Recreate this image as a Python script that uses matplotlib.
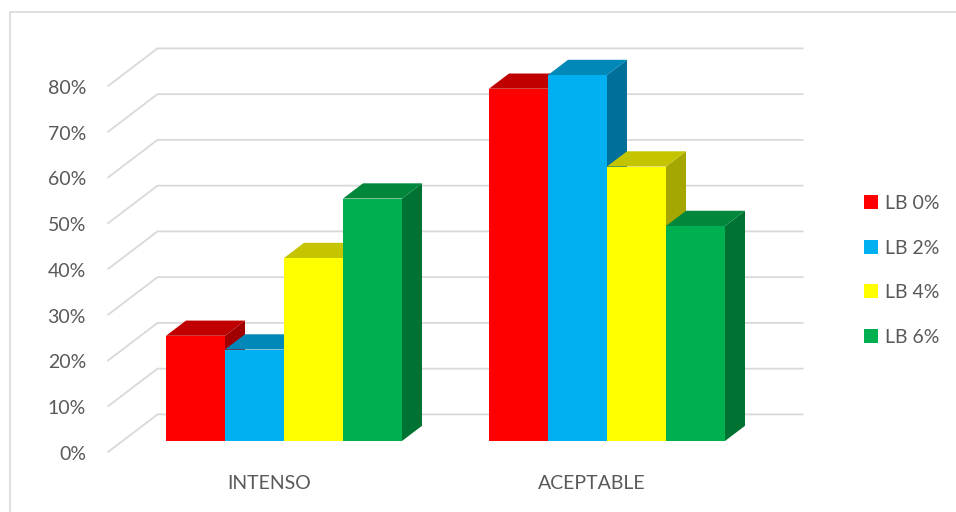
import matplotlib
matplotlib.use("Agg")
import matplotlib.pyplot as plt
from matplotlib.patches import Polygon, Patch
from matplotlib.lines import Line2D

# ---- data ----
categories = ["INTENSO", "ACEPTABLE"]
series = ["LB 0%", "LB 2%", "LB 4%", "LB 6%"]
lb0 = [0.23, 0.77]
lb2 = [0.20, 0.80]
lb4 = [0.40, 0.60]
lb6 = [0.53, 0.47]
values = [lb0, lb2, lb4, lb6]
ticks = [0.0, 0.1, 0.2, 0.3, 0.4, 0.5, 0.6, 0.7, 0.8]
tick_labels = ["0%", "10%", "20%", "30%", "40%", "50%", "60%", "70%", "80%"]

front_colors = ["#FF0000", "#00B0F0", "#FFFF00", "#00B050"]
top_colors = ["#C00000", "#0088B8", "#C4C400", "#00873C"]
side_colors = ["#A00000", "#00709A", "#A6A600", "#007232"]

TEXT = "#595959"
GRID = "#D9D9D9"

W, H, DPI = 956, 512, 100
fig = plt.figure(figsize=(W / DPI, H / DPI), dpi=DPI)
plt.rcParams['font.family'] = ['Lato', 'DejaVu Sans']

# scale: pixels per category unit / per value unit (front plane of bars)
PXC = 323.0
PXV = 457.5
X0 = 284.0   # pixel x of category 0 (bar front centre)
Y0 = 441.0   # pixel y of value 0 at bar front
ax = fig.add_axes([0, 0, 1, 1])
ax.set_xlim((0 - X0) / PXC, (W - X0) / PXC)
ax.set_ylim((Y0 - H) / PXV, Y0 / PXV)
ax.axis('off')

# depth vector (full floor depth) in data units
DX = 50.0 / PXC
DY = 38.0 / PXV
D_FRONT = 0.3
D_BACK = 0.7


def P(x, v, d):
    return (x + (d - D_FRONT) * DX, v + (d - D_FRONT) * DY)


# gridlines: side wall + back wall
for t in ticks:
    pts = [P(-0.5, t, 0), P(-0.5, t, 1), P(1.5, t, 1)]
    ax.plot([p[0] for p in pts], [p[1] for p in pts], color=GRID, lw=1.3,
            zorder=1, solid_capstyle='butt')

# tick labels
for t, lab in zip(ticks, tick_labels):
    x, y = P(-0.5, t, 0)
    ax.annotate(lab, (x, y), xytext=(-15.5, -1.5), textcoords='offset points',
                ha='right', va='center', fontsize=14, color=TEXT)

# category labels
for i, c in enumerate(categories):
    x, y = P(i, 0, 0)
    ax.annotate(c, (x, y), xytext=(0, -22.5), textcoords='offset points',
                ha='center', va='center', fontsize=14, color=TEXT)

# bars
bw = 59.0 / PXC
n = len(series)
ddx = (D_BACK - D_FRONT) * DX
ddy = (D_BACK - D_FRONT) * DY
handles = []
for j, (vals, fc, tc, sc, name) in enumerate(zip(values, front_colors, top_colors, side_colors, series)):
    xs = [i + (j - (n - 1) / 2) * bw for i in range(len(categories))]
    for x, v in zip(xs, vals):
        xl, xr = x - bw / 2, x + bw / 2
        side = Polygon([(xr, 0), (xr + ddx, ddy), (xr + ddx, v + ddy), (xr, v)],
                       closed=True, facecolor=sc, edgecolor='none', zorder=3 + 3 * j)
        top = Polygon([(xl, v), (xr, v), (xr + ddx, v + ddy), (xl + ddx, v + ddy)],
                      closed=True, facecolor=tc, edgecolor='none', zorder=4 + 3 * j)
        ax.add_patch(side)
        ax.add_patch(top)
    ax.bar(xs, vals, width=bw, color=fc, edgecolor='none', zorder=5 + 3 * j, label=name)
    handles.append(Patch(facecolor=fc, edgecolor='none', label=name))

# legend
leg = fig.legend(handles=handles, loc='upper left',
                 bbox_to_anchor=(864 / W, 1 - 195 / H), frameon=False,
                 fontsize=14, handlelength=0.72, handleheight=0.72,
                 handletextpad=0.35, labelspacing=1.42, borderpad=0, borderaxespad=0)
for txt in leg.get_texts():
    txt.set_color(TEXT)

# chart border
fig.add_artist(Line2D([10 / W, 10 / W, 1.0], [0.0, 1 - 12 / H, 1 - 12 / H],
                      transform=fig.transFigure, color=GRID, lw=1.2))

fig.savefig("out.png", dpi=DPI)
